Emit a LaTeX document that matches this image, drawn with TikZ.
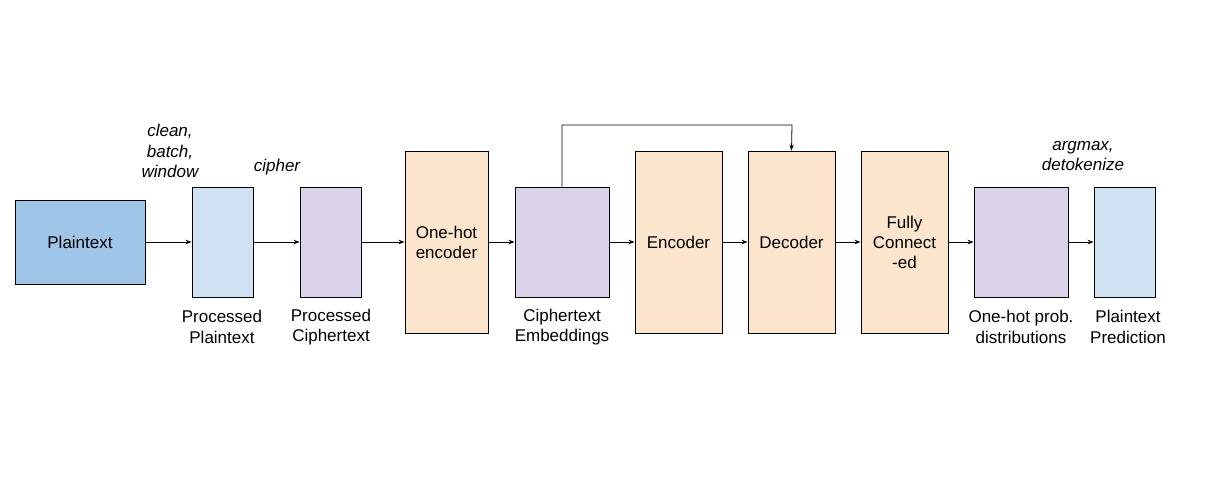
\documentclass[tikz,border=0pt]{standalone}
\usepackage{fontspec}
\setmainfont{Liberation Sans}
\usetikzlibrary{arrows.meta}
\definecolor{dblue}{HTML}{9FC5E8}
\definecolor{lblue}{HTML}{CFE2F3}
\definecolor{lpurple}{HTML}{D9D2E9}
\definecolor{lorange}{HTML}{FCE5CD}
\tikzset{
  blk/.style={draw=black, line width=0.9pt, inner sep=0pt, align=center, font=\fontsize{17}{20}\selectfont},
  lbl/.style={align=center, inner sep=0pt, font=\fontsize{17}{20.5}\selectfont},
  ilbl/.style={align=center, inner sep=0pt, font=\fontsize{17}{20.5}\selectfont\itshape},
  conn/.style={line width=0.8pt, -{Stealth[length=6pt,width=4.5pt]}}
}
\begin{document}
\begin{tikzpicture}[x=1pt,y=-1pt]
\useasboundingbox (0,0) rectangle (1226,498);
% boxes
\node[blk, fill=dblue, minimum width=130pt, minimum height=84pt] (pt) at (80,242) {Plaintext};
\node[blk, fill=lblue, minimum width=61pt, minimum height=110pt] (pp) at (222.5,242) {};
\node[blk, fill=lpurple, minimum width=61pt, minimum height=110pt] (pc) at (330.5,242) {};
\node[blk, fill=lorange, minimum width=83pt, minimum height=182pt] (oh) at (446.5,242) {One-hot\\encoder};
\node[blk, fill=lpurple, minimum width=94pt, minimum height=110pt] (ce) at (562,242) {};
\node[blk, fill=lorange, minimum width=87pt, minimum height=182pt] (enc) at (678.5,242) {Encoder};
\node[blk, fill=lorange, minimum width=87pt, minimum height=182pt] (dec) at (791.5,242) {Decoder};
\node[blk, fill=lorange, minimum width=87pt, minimum height=182pt] (fc) at (904.5,242) {Fully\\Connect\\-ed};
\node[blk, fill=lpurple, minimum width=94pt, minimum height=110pt] (op) at (1021,242) {};
\node[blk, fill=lblue, minimum width=61pt, minimum height=110pt] (pr) at (1124.5,242) {};
% labels below
\node[lbl] (lpp) at (222,327) {Processed\\Plaintext};
\node[lbl] (lpc) at (331,327) {Processed\\Ciphertext};
\node[lbl] (lce) at (562,327) {Ciphertext\\Embeddings};
\node[lbl] (lop) at (1021,327) {One-hot prob.\\distributions};
\node[lbl] (lpr) at (1128,327) {Plaintext\\Prediction};
% italic labels above
\node[ilbl] (l1) at (170,151) {clean,\\batch,\\window};
\node[ilbl] (l2) at (277,167) {cipher};
\node[ilbl] (l3) at (1083,156) {argmax,\\detokenize};
% connectors
\draw[conn] (pt) -- (pp);
\draw[conn] (pp) -- (pc);
\draw[conn] (pc) -- (oh);
\draw[conn] (oh) -- (ce);
\draw[conn] (ce) -- (enc);
\draw[conn] (enc) -- (dec);
\draw[conn] (dec) -- (fc);
\draw[conn] (fc) -- (op);
\draw[conn] (op) -- (pr);
\coordinate (skipA) at (562,125);
\coordinate (skipB) at (792,125);
\draw[conn] (ce.north) -- (skipA) -- (skipB) -- (dec.north);
\end{tikzpicture}
\end{document}
